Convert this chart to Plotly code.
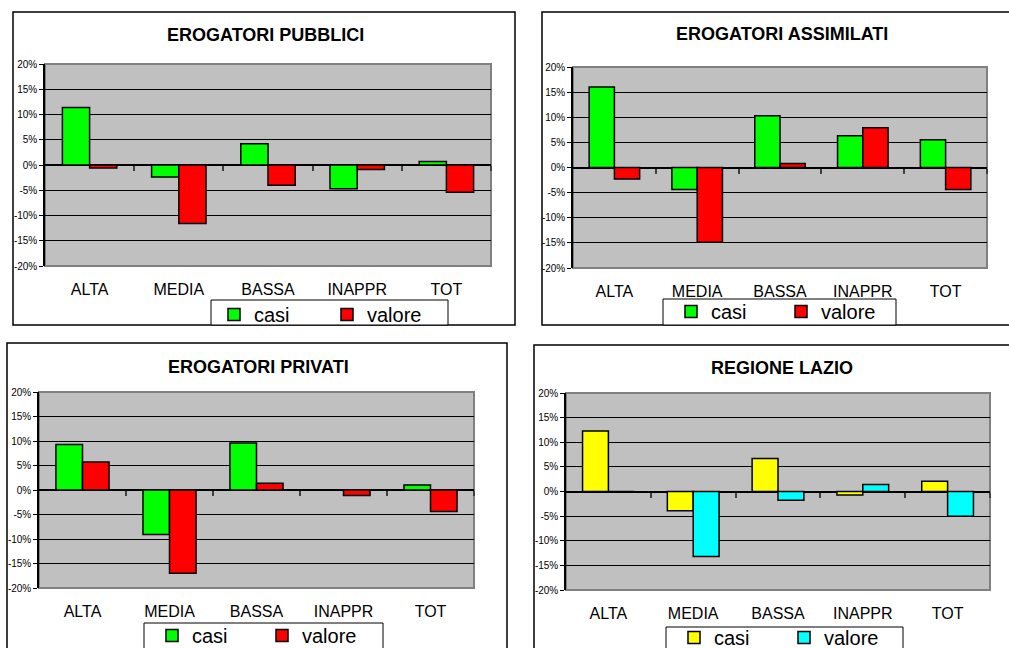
import plotly.graph_objects as go

W, H = 1009, 648

categorie = ["ALTA", "MEDIA", "BASSA", "INAPPR", "TOT"]

pubblici_casi = [11.4, -2.4, 4.2, -4.7, 0.7]
pubblici_valore = [-0.6, -11.6, -4.0, -0.9, -5.4]

assimilati_casi = [16.0, -4.4, 10.3, 6.3, 5.5]
assimilati_valore = [-2.3, -14.9, 0.8, 7.9, -4.4]

privati_casi = [9.3, -9.1, 9.6, 0.0, 1.0]
privati_valore = [5.7, -17.0, 1.4, -1.1, -4.4]

lazio_casi = [12.3, -3.9, 6.7, -0.7, 2.1]
lazio_valore = [0.0, -13.2, -1.8, 1.4, -5.0]

y_ticks = [-20, -15, -10, -5, 0, 5, 10, 15, 20]
y_tick_labels = ["-20%", "-15%", "-10%", "-5%", "0%", "5%", "10%", "15%", "20%"]

FONT = "Liberation Sans, Arial, sans-serif"


def px_x(v):
    return v / W


def px_y(v):
    return 1 - v / H


# panel geometry in pixels: plot area, outer box, title centre,
# legend frame (left, top, right) and legend text start / row centre
panels = [
    dict(title="EROGATORI PUBBLICI", casi=pubblici_casi, valore=pubblici_valore,
         colors=("#00FF00", "#FF0000"),
         plot=(45, 64, 491, 266), box=(13, 12, 515, 325),
         title_pos=(265, 35), legend_box=(211, 300, 448),
         legend_text=(255, 315), entry=68),
    dict(title="EROGATORI ASSIMILATI", casi=assimilati_casi, valore=assimilati_valore,
         colors=("#00FF00", "#FF0000"),
         plot=(573, 67, 987, 268), box=(542, 12, 1020, 325),
         title_pos=(782, 34), legend_box=(663, 299, 896),
         legend_text=(712, 312), entry=65),
    dict(title="EROGATORI PRIVATI", casi=privati_casi, valore=privati_valore,
         colors=("#00FF00", "#FF0000"),
         plot=(39, 392, 474, 588), box=(7, 343, 507, 660),
         title_pos=(258, 367), legend_box=(144, 623, 383),
         legend_text=(193, 636), entry=65),
    dict(title="REGIONE LAZIO", casi=lazio_casi, valore=lazio_valore,
         colors=("#FFFF00", "#00FFFF"),
         plot=(566, 393, 990, 590), box=(534, 345, 1020, 660),
         title_pos=(782, 368), legend_box=(666, 627, 903),
         legend_text=(715, 638), entry=65),
]

fig = go.Figure()
layout = dict(
    width=W, height=H,
    margin=dict(l=0, r=0, t=0, b=0, autoexpand=False),
    paper_bgcolor="white",
    plot_bgcolor="#C0C0C0",
    barmode="group",
    bargap=0.39,
    bargroupgap=0,
    font=dict(family=FONT, color="black"),
    shapes=[],
    annotations=[],
)

for i, p in enumerate(panels, start=1):
    ax = "" if i == 1 else str(i)
    tick_ax = str(4 + i)
    x0, y0, x1, y1 = p["plot"]
    xd = [px_x(x0), px_x(x1)]
    yd = [px_y(y1), px_y(y0)]

    for name, vals, col in (("casi", p["casi"], p["colors"][0]),
                            ("valore", p["valore"], p["colors"][1])):
        fig.add_trace(go.Bar(
            x=categorie, y=vals, name=name,
            marker=dict(color=col, line=dict(color="black", width=1.5)),
            xaxis="x" + ax, yaxis="y" + ax, legend="legend" + ax,
            hoverinfo="x+y",
        ))

    # helper trace so the tick axis along the zero line gets drawn
    fig.add_trace(go.Scatter(x=[], y=[], xaxis="x" + tick_ax, yaxis="y" + ax,
                             showlegend=False, hoverinfo="skip"))

    layout["xaxis" + ax] = dict(
        domain=xd, anchor="y" + ax, type="category",
        showgrid=False, showline=False, zeroline=False, ticks="",
        tickfont=dict(size=16, family=FONT, color="black"),
        ticklabelstandoff=12,
    )
    layout["yaxis" + ax] = dict(
        domain=yd, anchor="x" + ax, range=[-20, 20],
        tickvals=y_ticks, ticktext=y_tick_labels,
        showgrid=True, gridcolor="black", gridwidth=1,
        zeroline=True, zerolinecolor="black", zerolinewidth=1.5,
        showline=True, linecolor="black", linewidth=1.5,
        ticks="outside", ticklen=4, tickcolor="black", tickwidth=1,
        tickfont=dict(size=10, family=FONT, color="black"),
    )
    layout["xaxis" + tick_ax] = dict(
        overlaying="x" + ax, anchor="free", position=(yd[0] + yd[1]) / 2,
        range=[-0.5, 4.5], tickvals=[0.5, 1.5, 2.5, 3.5, 4.5],
        ticks="outside", ticklen=5, tickcolor="#404040", tickwidth=1.5,
        showticklabels=False, showgrid=False, zeroline=False, showline=False,
    )

    # grey frame of the plot area
    layout["shapes"].append(dict(
        type="rect", xref="x" + ax + " domain", yref="y" + ax + " domain",
        x0=0, x1=1, y0=0, y1=1, line=dict(color="#808080", width=2),
        layer="below",
    ))
    # outer chart box
    bx0, by0, bx1, by1 = p["box"]
    layout["shapes"].append(dict(
        type="rect", xref="paper", yref="paper",
        x0=px_x(bx0), x1=px_x(bx1), y0=px_y(by1), y1=px_y(by0),
        line=dict(color="black", width=1.5), layer="below",
    ))
    # legend frame, resting on the bottom edge of the chart box
    lb0, lbt, lb1 = p["legend_box"]
    layout["shapes"].append(dict(
        type="rect", xref="paper", yref="paper",
        x0=px_x(lb0), x1=px_x(lb1), y0=px_y(by1), y1=px_y(lbt),
        line=dict(color="black", width=1), fillcolor="white", layer="below",
    ))
    tx, ty = p["title_pos"]
    layout["annotations"].append(dict(
        text=p["title"], xref="paper", yref="paper",
        x=px_x(tx), y=px_y(ty), xanchor="center", yanchor="middle",
        showarrow=False,
        font=dict(size=18, family=FONT, color="black", weight="bold"),
    ))
    lx, ly = p["legend_text"]
    layout["legend" + ax] = dict(
        x=px_x(lx - 41), y=px_y(ly - 20), xanchor="left", yanchor="top",
        orientation="h", bgcolor="rgba(0,0,0,0)", borderwidth=0,
        font=dict(size=20, family=FONT, color="black"),
        entrywidth=p["entry"], traceorder="normal",
    )

fig.update_layout(**layout)
fig.write_html("out.html")
